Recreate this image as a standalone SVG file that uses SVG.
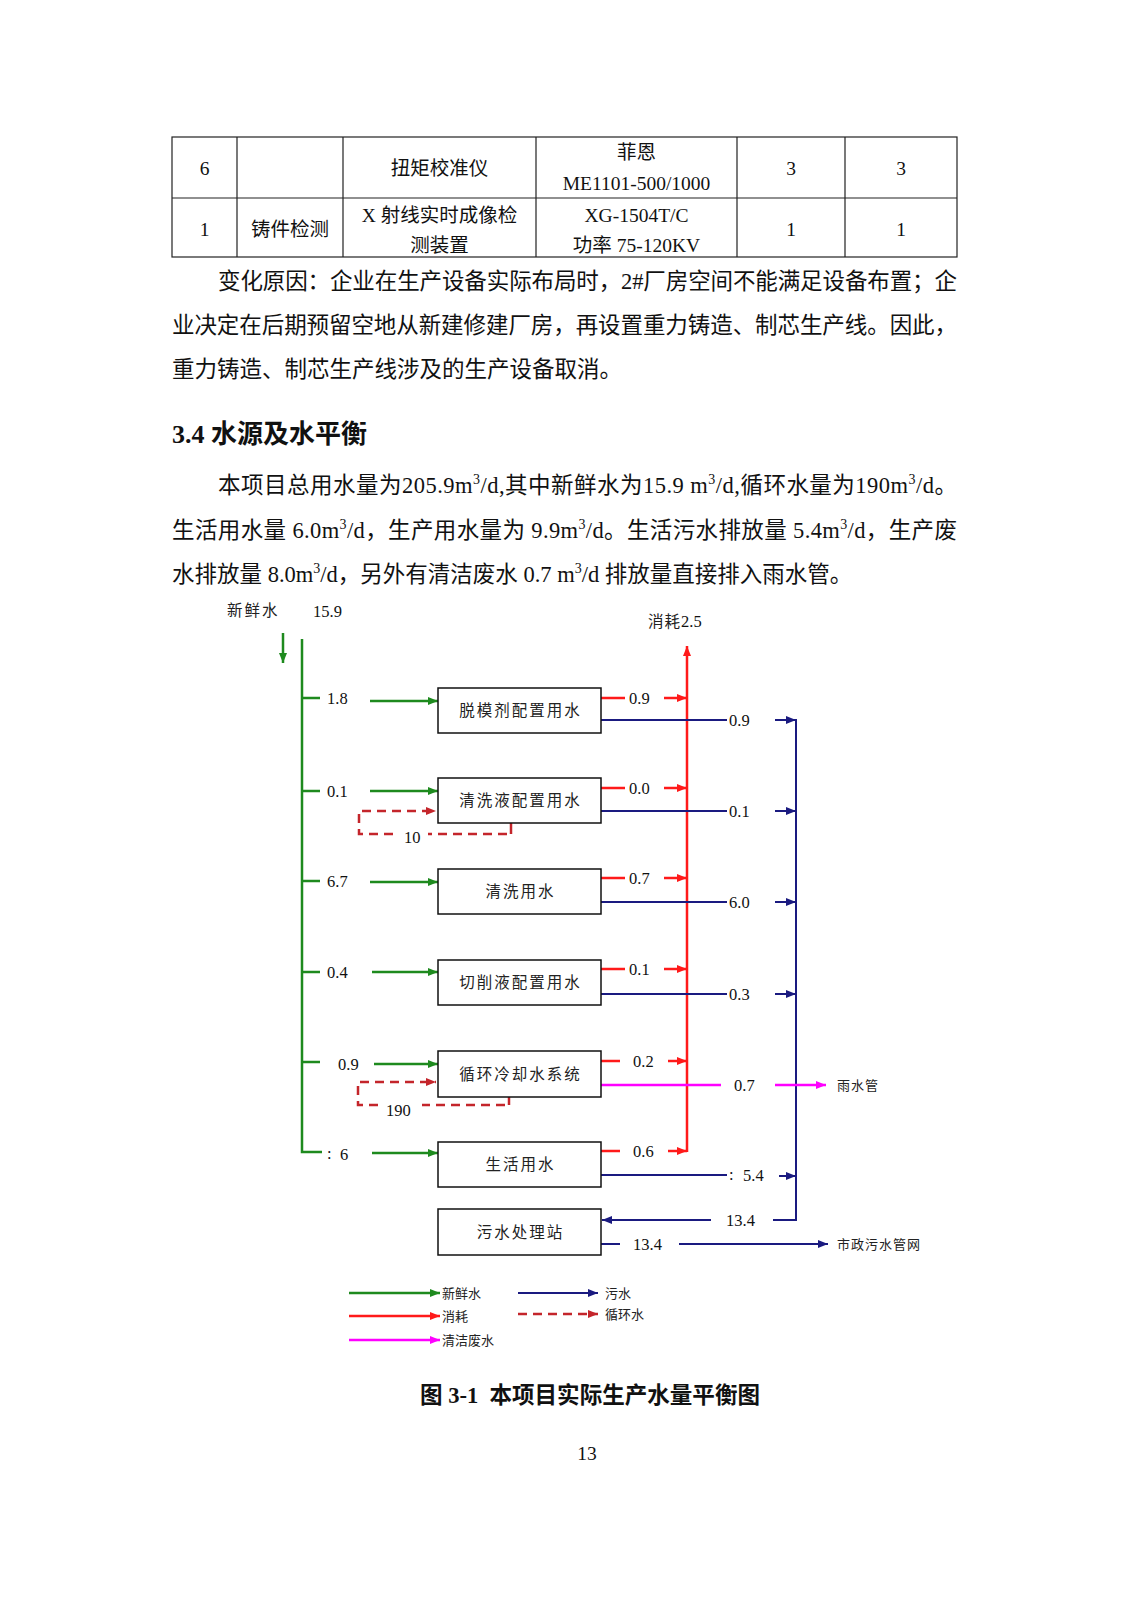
<svg xmlns="http://www.w3.org/2000/svg" width="1131" height="1600" viewBox="0 0 1131 1600">
<style>
.body{font-family:"Liberation Serif","Noto Sans CJK SC",serif;font-size:22.5px;fill:#111}
.tb{font-family:"Liberation Serif","Noto Sans CJK SC",serif;font-size:19.5px;fill:#111;text-anchor:middle}
.h{font-family:"Liberation Serif","Noto Sans CJK SC",serif;font-size:26px;font-weight:bold;fill:#111}
.cap{font-family:"Liberation Serif","Noto Sans CJK SC",serif;font-size:23px;font-weight:bold;fill:#111}
.num{font-family:"Liberation Serif",serif;font-size:16.5px;fill:#111}
.cn{font-family:"Noto Sans CJK SC",sans-serif;font-size:15.5px;fill:#222;letter-spacing:2px}
.lg{font-family:"Noto Sans CJK SC",sans-serif;font-size:13px;fill:#222}
.box{fill:#fff;stroke:#111;stroke-width:1.5}
.g{stroke:#1e8a1e;stroke-width:2.5;fill:none}
.r{stroke:#ff1a1a;stroke-width:2.5;fill:none}
.b{stroke:#1a1a80;stroke-width:2;fill:none}
.m{stroke:#ff00ff;stroke-width:2.5;fill:none}
.d{stroke:#c4252b;stroke-width:2.5;fill:none;stroke-dasharray:9,6}
.ds{stroke:#c4252b;stroke-width:2.5;fill:none}
.tl{stroke:#222;stroke-width:1.2;fill:none}
</style>
<defs>
<marker id="ag" markerUnits="userSpaceOnUse" markerWidth="10" markerHeight="8" refX="10" refY="4" orient="auto"><path d="M0,0 L10,4 L0,8 z" fill="#1e8a1e"/></marker>
<marker id="ar" markerUnits="userSpaceOnUse" markerWidth="10" markerHeight="8" refX="10" refY="4" orient="auto"><path d="M0,0 L10,4 L0,8 z" fill="#ff1a1a"/></marker>
<marker id="ab" markerUnits="userSpaceOnUse" markerWidth="10" markerHeight="8" refX="10" refY="4" orient="auto"><path d="M0,0 L10,4 L0,8 z" fill="#1a1a80"/></marker>
<marker id="am" markerUnits="userSpaceOnUse" markerWidth="10" markerHeight="8" refX="10" refY="4" orient="auto"><path d="M0,0 L10,4 L0,8 z" fill="#ff00ff"/></marker>
<marker id="ad" markerUnits="userSpaceOnUse" markerWidth="10" markerHeight="8" refX="10" refY="4" orient="auto"><path d="M0,0 L10,4 L0,8 z" fill="#c4252b"/></marker>
</defs>
<rect width="1131" height="1600" fill="#fff"/>

<g id="table">
<rect x="172" y="137" width="785" height="120" class="tl"/>
<path class="tl" d="M172,198 H957 M237,137 V257 M343,137 V257 M536,137 V257 M737,137 V257 M845,137 V257"/>
<text class="tb" x="204.5" y="175">6</text>
<text class="tb" x="439.5" y="175">扭矩校准仪</text>
<text class="tb" x="636.5" y="159">菲恩</text>
<text class="tb" x="636.5" y="190">ME1101-500/1000</text>
<text class="tb" x="791" y="175">3</text>
<text class="tb" x="901" y="175">3</text>
<text class="tb" x="204.5" y="236">1</text>
<text class="tb" x="290" y="236">铸件检测</text>
<text class="tb" x="439.5" y="222">X 射线实时成像检</text>
<text class="tb" x="439.5" y="252">测装置</text>
<text class="tb" x="636.5" y="222">XG-1504T/C</text>
<text class="tb" x="636.5" y="252">功率 75-120KV</text>
<text class="tb" x="791" y="236">1</text>
<text class="tb" x="901" y="236">1</text>
</g>

<g id="text">
<text class="body" x="218" y="289" textLength="739" lengthAdjust="spacing">变化原因：企业在生产设备实际布局时，2#厂房空间不能满足设备布置；企</text>
<text class="body" x="172" y="333" textLength="785" lengthAdjust="spacing">业决定在后期预留空地从新建修建厂房，再设置重力铸造、制芯生产线。因此，</text>
<text class="body" x="172" y="377">重力铸造、制芯生产线涉及的生产设备取消。</text>
<text class="h" x="172" y="443">3.4 水源及水平衡</text>
<text class="body" x="218" y="493" textLength="739" lengthAdjust="spacing">本项目总用水量为205.9m<tspan font-size="14" dy="-9">3</tspan><tspan dy="9">/d,其中新鲜水为15.9 m</tspan><tspan font-size="14" dy="-9">3</tspan><tspan dy="9">/d,循环水量为190m</tspan><tspan font-size="14" dy="-9">3</tspan><tspan dy="9">/d。</tspan></text>
<text class="body" x="172" y="538" textLength="785" lengthAdjust="spacing">生活用水量 6.0m<tspan font-size="14" dy="-9">3</tspan><tspan dy="9">/d，生产用水量为 9.9m</tspan><tspan font-size="14" dy="-9">3</tspan><tspan dy="9">/d。生活污水排放量 5.4m</tspan><tspan font-size="14" dy="-9">3</tspan><tspan dy="9">/d，生产废</tspan></text>
<text class="body" x="172" y="582">水排放量 8.0m<tspan font-size="14" dy="-9">3</tspan><tspan dy="9">/d，另外有清洁废水 0.7 m</tspan><tspan font-size="14" dy="-9">3</tspan><tspan dy="9">/d 排放量直接排入雨水管。</tspan></text>
</g>

<g id="connectors">
<path class="g" d="M283,633 V663" marker-end="url(#ag)"/>
<path class="g" d="M302,639 V1152 H322 M302,698 H320 M302,791 H320 M302,881 H320 M302,972 H320 M302,1062 H320"/>
<path class="g" d="M370,701 H438" marker-end="url(#ag)"/>
<path class="g" d="M370,791 H438" marker-end="url(#ag)"/>
<path class="g" d="M370,882 H438" marker-end="url(#ag)"/>
<path class="g" d="M372,972 H438" marker-end="url(#ag)"/>
<path class="g" d="M374,1064 H438" marker-end="url(#ag)"/>
<path class="g" d="M372,1153 H438" marker-end="url(#ag)"/>

<path class="r" d="M687,1152 V646" marker-end="url(#ar)"/>
<path class="r" d="M601,698 H625 M601,788 H625 M601,878 H625 M601,969 H625 M601,1061 H620 M601,1151 H620"/>
<path class="r" d="M664,698 H687" marker-end="url(#ar)"/>
<path class="r" d="M664,788 H687" marker-end="url(#ar)"/>
<path class="r" d="M664,878 H687" marker-end="url(#ar)"/>
<path class="r" d="M664,969 H687" marker-end="url(#ar)"/>
<path class="r" d="M668,1061 H687" marker-end="url(#ar)"/>
<path class="r" d="M668,1151 H687" marker-end="url(#ar)"/>

<path class="b" d="M601,720 H727 M601,811 H727 M601,902 H727 M601,994 H727 M601,1175 H727"/>
<path class="b" d="M796,719 V1220 H773"/>
<path class="b" d="M775,720 H796" marker-end="url(#ab)"/>
<path class="b" d="M775,811 H796" marker-end="url(#ab)"/>
<path class="b" d="M775,902 H796" marker-end="url(#ab)"/>
<path class="b" d="M775,994 H796" marker-end="url(#ab)"/>
<path class="b" d="M779,1176 H796" marker-end="url(#ab)"/>
<path class="b" d="M711,1220 H602" marker-end="url(#ab)"/>
<path class="b" d="M601,1244 H620"/>
<path class="b" d="M679,1244 H828" marker-end="url(#ab)"/>

<path class="m" d="M601,1085 H721"/>
<path class="m" d="M775,1085 H826" marker-end="url(#am)"/>

<path class="ds" d="M511,823 V834"/>
<path class="d" d="M507,834 H428"/>
<path class="d" d="M393,834 H359 V811 H436" marker-end="url(#ad)"/>
<path class="ds" d="M509,1097 V1105"/>
<path class="d" d="M505,1105 H422"/>
<path class="d" d="M378,1105 H358 V1082 H436" marker-end="url(#ad)"/>
</g>

<g id="labels">
<text class="cn" x="227" y="616">新鲜水</text>
<text class="num" x="313" y="617">15.9</text>
<text x="648" y="627"><tspan class="cn" style="letter-spacing:1px">消耗</tspan><tspan class="num">2.5</tspan></text>
<text class="num" x="327" y="704">1.8</text>
<text class="num" x="327" y="797">0.1</text>
<text class="num" x="327" y="887">6.7</text>
<text class="num" x="327" y="978">0.4</text>
<text class="num" x="338" y="1070">0.9</text>
<text class="num" x="327" y="1159">:</text>
<text class="num" x="340" y="1160">6</text>
<text class="num" x="404" y="843">10</text>
<text class="num" x="386" y="1116">190</text>
<text class="num" x="629" y="704">0.9</text>
<text class="num" x="629" y="794">0.0</text>
<text class="num" x="629" y="884">0.7</text>
<text class="num" x="629" y="975">0.1</text>
<text class="num" x="633" y="1067">0.2</text>
<text class="num" x="633" y="1157">0.6</text>
<text class="num" x="729" y="726">0.9</text>
<text class="num" x="729" y="817">0.1</text>
<text class="num" x="729" y="908">6.0</text>
<text class="num" x="729" y="1000">0.3</text>
<text class="num" x="729" y="1180">:</text>
<text class="num" x="743" y="1181">5.4</text>
<text class="num" x="734" y="1091">0.7</text>
<text class="num" x="726" y="1226">13.4</text>
<text class="num" x="633" y="1250">13.4</text>
<text class="cn" x="837" y="1090" style="font-size:13px;letter-spacing:1px">雨水管</text>
<text class="cn" x="837" y="1249" style="font-size:13px;letter-spacing:1px">市政污水管网</text>
</g>

<g id="n1"><rect class="box" x="438" y="688" width="163" height="45"/><text class="cn" x="520.5" y="716" text-anchor="middle">脱模剂配置用水</text></g>
<g id="n2"><rect class="box" x="438" y="778" width="163" height="45"/><text class="cn" x="520.5" y="806" text-anchor="middle">清洗液配置用水</text></g>
<g id="n3"><rect class="box" x="438" y="869" width="163" height="45"/><text class="cn" x="520.5" y="897" text-anchor="middle">清洗用水</text></g>
<g id="n4"><rect class="box" x="438" y="960" width="163" height="45"/><text class="cn" x="520.5" y="988" text-anchor="middle">切削液配置用水</text></g>
<g id="n5"><rect class="box" x="438" y="1051" width="163" height="46"/><text class="cn" x="520.5" y="1080" text-anchor="middle">循环冷却水系统</text></g>
<g id="n6"><rect class="box" x="438" y="1142" width="163" height="45"/><text class="cn" x="520.5" y="1170" text-anchor="middle">生活用水</text></g>
<g id="n7"><rect class="box" x="438" y="1209" width="163" height="46"/><text class="cn" x="520.5" y="1238" text-anchor="middle">污水处理站</text></g>

<g id="legend">
<path class="g" d="M349,1293 H440" marker-end="url(#ag)"/>
<text class="lg" x="442" y="1298">新鲜水</text>
<path class="r" d="M349,1316 H440" marker-end="url(#ar)"/>
<text class="lg" x="442" y="1321">消耗</text>
<path class="m" d="M349,1340 H440" marker-end="url(#am)"/>
<text class="lg" x="442" y="1345">清洁废水</text>
<path class="b" d="M518,1293 H598" marker-end="url(#ab)"/>
<text class="lg" x="605" y="1298">污水</text>
<path class="d" d="M518,1314 H598" marker-end="url(#ad)"/>
<text class="lg" x="605" y="1319">循环水</text>
</g>

<text class="cap" x="420" y="1403" xml:space="preserve" style="white-space:pre" textLength="340" lengthAdjust="spacingAndGlyphs">图 3-1  本项目实际生产水量平衡图</text>
<text class="tb" x="587" y="1460">13</text>
</svg>
